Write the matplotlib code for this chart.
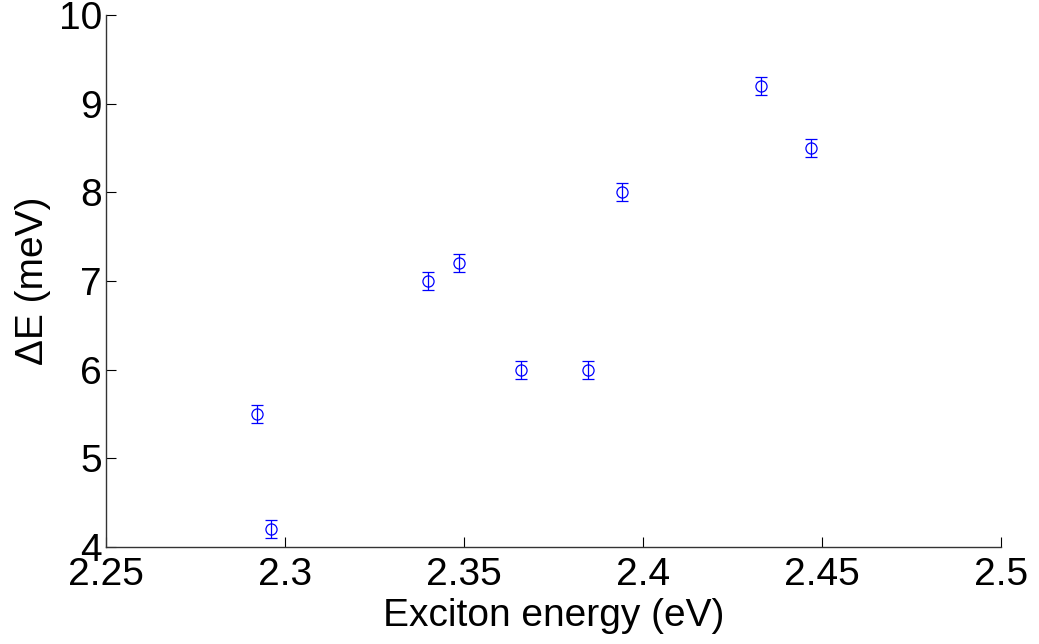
import matplotlib.pyplot as plt

# ---------- DATA ----------
exciton_energy = [2.292, 2.296, 2.340, 2.3485, 2.366, 2.3845, 2.394, 2.433, 2.447]
delta_e = [5.5, 4.2, 7.0, 7.2, 6.0, 6.0, 8.0, 9.2, 8.5]
delta_e_err = [0.1] * len(delta_e)

plt.rcParams['font.family'] = ['Liberation Sans', 'DejaVu Sans']

fig = plt.figure(figsize=(10.39, 6.44), dpi=100)
ax = fig.add_axes([0.1023, 0.1506, 0.861, 0.8261])

ax.errorbar(exciton_energy, delta_e, yerr=delta_e_err, fmt='o', color='#0000ff',
            mfc='none', mec='#0000ff', ms=8, mew=0.9, elinewidth=0.9,
            capsize=4, capthick=0.9)

ax.set_xlim(2.25, 2.5)
ax.set_ylim(4, 10)
ax.set_xticks([2.25, 2.3, 2.35, 2.4, 2.45, 2.5])
ax.set_xticklabels(['2.25', '2.3', '2.35', '2.4', '2.45', '2.5'])
ax.set_yticks(range(4, 11))

for side in ['top', 'right']:
    ax.spines[side].set_visible(False)
for side in ['left', 'bottom']:
    ax.spines[side].set_color('#333333')
    ax.spines[side].set_linewidth(1.0)

ax.tick_params(direction='in', length=7, width=0.8, labelsize=28)
ax.tick_params(axis='x', pad=7)
ax.tick_params(axis='y', pad=3)
ax.set_xlabel('Exciton energy (eV)', fontsize=28, labelpad=4)
ax.set_ylabel('ΔE (meV)', fontsize=28, labelpad=6)

fig.savefig('out.png', dpi=100)
